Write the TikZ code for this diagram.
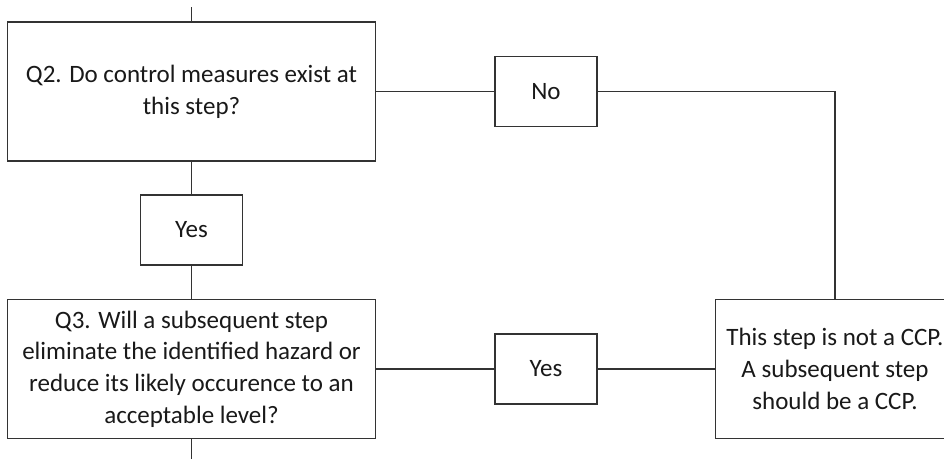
\documentclass[tikz,border=0pt]{standalone}
\usepackage{fontspec}
\setmainfont{Carlito}
\begin{document}
\begin{tikzpicture}[x=1pt,y=-1pt,
  box/.style={draw=black!80, line width=1.2pt, fill=white, align=center,
    inner sep=0pt, font=\fontsize{25}{31.7}\selectfont, text=black!90},
  question/.style={box, minimum width=368pt, minimum height=139pt},
  answer/.style={box, minimum width=102pt, minimum height=70pt},
  link/.style={draw=black!80, line width=1.2pt}]
\useasboundingbox (0,0) rectangle (944,459);

% question boxes
\node[question] (q2) at (191.5,91.5) {Q2. Do control measures exist at\\this step?};
\node[question] (q3) at (191.5,369) {Q3. Will a subsequent step\\eliminate the identified hazard or\\reduce its likely occurence to an\\acceptable level?};

% answer boxes
\node[answer] (no)   at (546,91.5) {No};
\node[answer] (yes1) at (191.5,230) {Yes};
\node[answer] (yes2) at (546,369) {Yes};

% outcome box (runs past the right edge)
\node[box, minimum width=239pt, minimum height=139pt] (ccp) at (835,369)
  {This step is not a CCP.\\A subsequent step\\should be a CCP.};

% free ends of the flow
\coordinate (top) at (191.5,7);
\coordinate (bottom) at (191.5,459);

% connectors
\draw[link] (top) -- (q2.north);
\draw[link] (q2.south) -- (yes1.north);
\draw[link] (yes1.south) -- (q3.north);
\draw[link] (q3.south) -- (bottom);
\draw[link] (q2.east) -- (no.west);
\draw[link] (no.east) -| (ccp.north);
\draw[link] (q3.east) -- (yes2.west);
\draw[link] (yes2.east) -- (ccp.west);
\end{tikzpicture}
\end{document}
